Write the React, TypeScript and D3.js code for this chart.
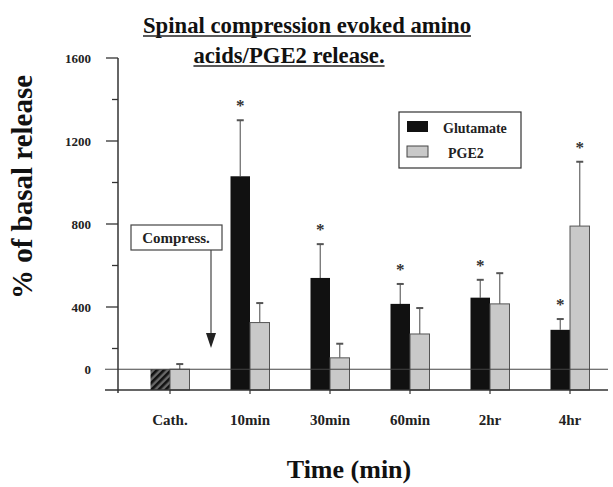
import React, { useEffect, useRef } from 'react';
import * as d3 from 'd3';

// values (% of basal release)
const categories = ['Cath.', '10min', '30min', '60min', '2hr', '4hr'];
const seriesNames = ['Glutamate', 'PGE2'];
const glutamate = [100, 1030, 540, 415, 445, 290];
const glutamateErr = [0, 270, 163, 96, 86, 52];
const pge2 = [100, 325, 155, 270, 415, 790];
const pge2Err = [25, 94, 68, 125, 148, 310];
const glutamateSig = [false, true, true, true, true, true];
const pge2Sig = [false, false, false, false, false, true];
const majorTicks = [400, 800, 1200, 1600];
const minorTicks = [200, 600, 1000, 1400];
const basalValue = 100; // drawn as the "0" line

const W = 613;
const H = 487;
const FONT = '"Liberation Serif", "Times New Roman", serif';

const App = () => {
  const svgRef = useRef<SVGSVGElement>(null);

  useEffect(() => {
    document.body.style.margin = '0';
    const svg = d3.select(svgRef.current);
    svg.selectAll('*').remove();

    const x = d3
      .scaleBand<string>()
      .domain(categories)
      .range([130, 610])
      .paddingInner(0.5125)
      .paddingOuter(0.25625);
    const xs = d3
      .scaleBand<string>()
      .domain(seriesNames)
      .range([0, x.bandwidth()]);
    const y = d3.scaleLinear().domain([0, 1600]).range([390, 58]);

    const axisX = 118;

    // hatch pattern for the catheter glutamate bar
    const defs = svg.append('defs');
    const pat = defs
      .append('pattern')
      .attr('id', 'hatch')
      .attr('patternUnits', 'userSpaceOnUse')
      .attr('width', 5)
      .attr('height', 5)
      .attr('patternTransform', 'rotate(45)');
    pat.append('rect').attr('width', 5).attr('height', 5).attr('fill', '#6a6a6a');
    pat.append('rect').attr('width', 2.6).attr('height', 5).attr('fill', '#111');

    const rows = categories.map((c, i) => ({
      cat: c,
      i,
      values: [
        { key: 'Glutamate', v: glutamate[i], e: glutamateErr[i], sig: glutamateSig[i] },
        { key: 'PGE2', v: pge2[i], e: pge2Err[i], sig: pge2Sig[i] },
      ],
    }));

    const g = svg
      .selectAll('g.grp')
      .data(rows)
      .enter()
      .append('g')
      .attr('class', 'grp')
      .attr('transform', d => `translate(${x(d.cat)},0)`);

    const item = g
      .selectAll('g.bar')
      .data(d => d.values.map(v => ({ ...v, i: d.i })))
      .enter()
      .append('g');

    // error bars (upper only)
    item
      .filter(d => d.e > 0)
      .append('line')
      .attr('x1', d => xs(d.key)! + xs.bandwidth() / 2)
      .attr('x2', d => xs(d.key)! + xs.bandwidth() / 2)
      .attr('y1', d => y(d.v))
      .attr('y2', d => y(d.v + d.e))
      .attr('stroke', '#666')
      .attr('stroke-width', 1.2);
    item
      .filter(d => d.e > 0)
      .append('line')
      .attr('x1', d => xs(d.key)! + xs.bandwidth() / 2 - 3.5)
      .attr('x2', d => xs(d.key)! + xs.bandwidth() / 2 + 3.5)
      .attr('y1', d => y(d.v + d.e))
      .attr('y2', d => y(d.v + d.e))
      .attr('stroke', '#555')
      .attr('stroke-width', 2);

    item
      .append('rect')
      .attr('x', d => xs(d.key)!)
      .attr('width', xs.bandwidth())
      .attr('y', d => y(d.v))
      .attr('height', d => y(0) - y(d.v))
      .attr('fill', d =>
        d.key === 'PGE2' ? '#c9c9c9' : d.i === 0 ? 'url(#hatch)' : '#111'
      )
      .attr('stroke', d => (d.key === 'PGE2' ? '#555' : 'none'))
      .attr('stroke-width', 1);

    item
      .filter(d => d.sig)
      .append('text')
      .attr('x', d => xs(d.key)! + xs.bandwidth() / 2)
      .attr('y', d => y(d.v + d.e) - 17 + 8)
      .attr('text-anchor', 'middle')
      .attr('font-family', FONT)
      .attr('font-weight', 'bold')
      .attr('font-size', 17)
      .attr('fill', '#333')
      .text('*');

    // basal line labelled "0" and bottom axis
    svg
      .append('line')
      .attr('x1', 105)
      .attr('x2', 608)
      .attr('y1', y(basalValue))
      .attr('y2', y(basalValue))
      .attr('stroke', '#444')
      .attr('stroke-width', 1.2);
    svg
      .append('line')
      .attr('x1', 105)
      .attr('x2', 608)
      .attr('y1', y(0))
      .attr('y2', y(0))
      .attr('stroke', '#333')
      .attr('stroke-width', 1.5);

    // y axis
    svg
      .append('line')
      .attr('x1', axisX)
      .attr('x2', axisX)
      .attr('y1', y(1600))
      .attr('y2', y(0) + 3)
      .attr('stroke', '#333')
      .attr('stroke-width', 1.5);
    svg
      .selectAll('line.major')
      .data(majorTicks)
      .enter()
      .append('line')
      .attr('x1', axisX - 12)
      .attr('x2', axisX)
      .attr('y1', d => y(d))
      .attr('y2', d => y(d))
      .attr('stroke', '#333')
      .attr('stroke-width', 1.3);
    svg
      .selectAll('line.minor')
      .data(minorTicks)
      .enter()
      .append('line')
      .attr('x1', axisX - 6)
      .attr('x2', axisX)
      .attr('y1', d => y(d))
      .attr('y2', d => y(d))
      .attr('stroke', '#333')
      .attr('stroke-width', 1.3);
    const tickLabels = [...majorTicks.map(v => ({ v, t: String(v) })), { v: basalValue, t: '0' }];
    svg
      .selectAll('text.ytick')
      .data(tickLabels)
      .enter()
      .append('text')
      .attr('x', 91)
      .attr('y', d => y(d.v) + 4.5)
      .attr('text-anchor', 'end')
      .attr('font-family', FONT)
      .attr('font-weight', 'bold')
      .attr('font-size', 13)
      .attr('fill', '#222')
      .text(d => d.t);

    // x ticks and labels
    svg
      .selectAll('line.xtick')
      .data(categories)
      .enter()
      .append('line')
      .attr('x1', d => x(d)! + x.bandwidth() / 2)
      .attr('x2', d => x(d)! + x.bandwidth() / 2)
      .attr('y1', y(0))
      .attr('y2', y(0) + 4)
      .attr('stroke', '#333')
      .attr('stroke-width', 1.2);
    svg
      .selectAll('text.xtick')
      .data(categories)
      .enter()
      .append('text')
      .attr('x', d => x(d)! + x.bandwidth() / 2)
      .attr('y', 425)
      .attr('text-anchor', 'middle')
      .attr('font-family', FONT)
      .attr('font-weight', 'bold')
      .attr('font-size', 15)
      .attr('fill', '#222')
      .text(d => d);

    // axis titles
    svg
      .append('text')
      .attr('transform', 'translate(32,187) rotate(-90)')
      .attr('text-anchor', 'middle')
      .attr('font-family', FONT)
      .attr('font-weight', 'bold')
      .attr('font-size', 29)
      .attr('fill', '#111')
      .text('% of basal release');
    svg
      .append('text')
      .attr('x', 349)
      .attr('y', 478)
      .attr('text-anchor', 'middle')
      .attr('font-family', FONT)
      .attr('font-weight', 'bold')
      .attr('font-size', 26)
      .attr('fill', '#111')
      .text('Time (min)');

    // title, underlined
    const titleLines = [
      { t: 'Spinal compression evoked amino', cx: 307, by: 33 },
      { t: 'acids/PGE2 release.', cx: 289, by: 63 },
    ];
    titleLines.forEach(l => {
      const tx = svg
        .append('text')
        .attr('x', l.cx)
        .attr('y', l.by)
        .attr('text-anchor', 'middle')
        .attr('font-family', FONT)
        .attr('font-weight', 'bold')
        .attr('font-size', 22.7)
        .attr('fill', '#111')
        .text(l.t);
      const w = (tx.node() as SVGTextElement).getComputedTextLength();
      svg
        .append('line')
        .attr('x1', l.cx - w / 2)
        .attr('x2', l.cx + w / 2)
        .attr('y1', l.by + 3)
        .attr('y2', l.by + 3)
        .attr('stroke', '#222')
        .attr('stroke-width', 1.5);
    });

    // legend
    const lg = svg.append('g');
    lg.append('rect')
      .attr('x', 399)
      .attr('y', 112)
      .attr('width', 122)
      .attr('height', 56)
      .attr('fill', 'white')
      .attr('stroke', '#333')
      .attr('stroke-width', 1.2);
    const legendRows = [
      { name: seriesNames[0], fill: '#111', stroke: 'none', y: 121, tx: 443 },
      { name: seriesNames[1], fill: '#c9c9c9', stroke: '#444', y: 146, tx: 448 },
    ];
    legendRows.forEach(r => {
      lg.append('rect')
        .attr('x', 407)
        .attr('y', r.y)
        .attr('width', 21)
        .attr('height', 11)
        .attr('fill', r.fill)
        .attr('stroke', r.stroke);
      lg.append('text')
        .attr('x', r.tx)
        .attr('y', r.y + 12)
        .attr('font-family', FONT)
        .attr('font-weight', 'bold')
        .attr('font-size', 14)
        .attr('fill', '#222')
        .text(r.name);
    });

    // "Compress." annotation with arrow
    svg
      .append('rect')
      .attr('x', 131)
      .attr('y', 225)
      .attr('width', 91)
      .attr('height', 25)
      .attr('fill', 'white')
      .attr('stroke', '#444')
      .attr('stroke-width', 1.2);
    svg
      .append('text')
      .attr('x', 176)
      .attr('y', 243)
      .attr('text-anchor', 'middle')
      .attr('font-family', FONT)
      .attr('font-weight', 'bold')
      .attr('font-size', 15)
      .attr('fill', '#222')
      .text('Compress.');
    svg
      .append('line')
      .attr('x1', 211)
      .attr('x2', 211)
      .attr('y1', 250)
      .attr('y2', 336)
      .attr('stroke', '#444')
      .attr('stroke-width', 1.2);
    svg
      .append('path')
      .attr('d', 'M206,333 L216,333 L211,348 Z')
      .attr('fill', '#222');
  }, []);

  return <svg ref={svgRef} width={W} height={H} style={{ display: 'block', background: 'white' }}></svg>;
};

export default App;
